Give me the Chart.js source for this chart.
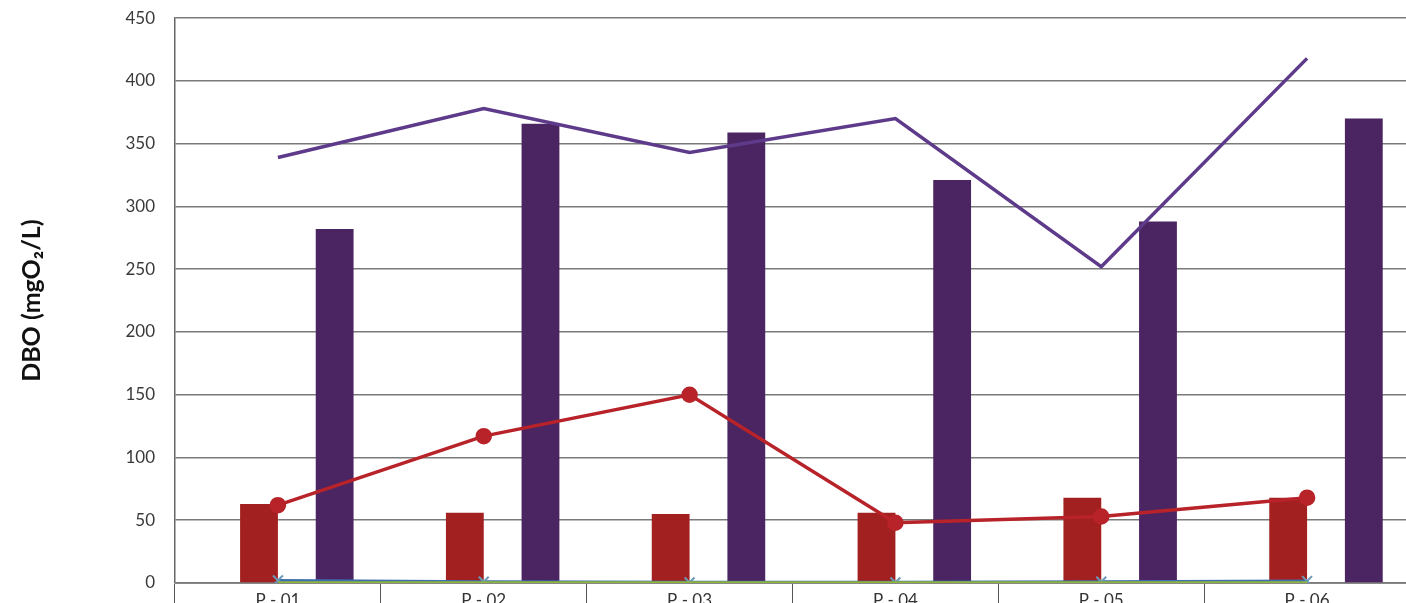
<!DOCTYPE html>
<html>
<head>
<meta charset="utf-8">
<script src="https://cdn.jsdelivr.net/npm/chart.js@4"></script>
<style>
  html, body { margin: 0; padding: 0; background: #fff; overflow: hidden; }
  #wrap { width: 1406px; height: 603px; overflow: hidden; position: relative; }
  #box { width: 1420px; height: 637px; position: absolute; left: 0; top: -12px; }
</style>
</head>
<body>
<div id="wrap"><div id="box"><canvas id="dboChart"></canvas></div></div>
<script>
// Pontos de coleta
const labels = ['P - 01', 'P - 02', 'P - 03', 'P - 04', 'P - 05', 'P - 06'];

// Barras
const barVazia1 = [0, 0, 0, 0, 0, 0];
const barVermelha = [63, 56, 55, 56, 68, 68];
const barVazia2 = [0, 0, 0, 0, 0, 0];
const barRoxa = [282, 366, 359, 321, 288, 370];

// Linhas
const linhaVermelha = [62, 117, 150, 48, 53, 68];
const linhaRoxa = [339, 378, 343, 370, 252, 418];
const linhaAzul = [2, 1, 0.5, 0.5, 1, 1.5];
const linhaVerde = [0, 0, 0, 0, 0, 0];

const yTicks = [0, 50, 100, 150, 200, 250, 300, 350, 400, 450];

const ctx = document.getElementById('dboChart').getContext('2d');
new Chart(ctx, {
    data: {
        labels: labels,
        datasets: [
            { type: 'line', data: linhaVermelha, borderColor: '#b8232a', backgroundColor: '#b8232a',
              borderWidth: 3.5, pointRadius: 6.5, pointBackgroundColor: '#b8232a', order: 0 },
            { type: 'line', data: linhaRoxa, borderColor: '#5d3a8a', borderWidth: 3.5, pointRadius: 0, order: 0 },
            { type: 'line', data: linhaVerde, borderColor: '#8db43c', borderWidth: 3.5, pointRadius: 0, order: 0 },
            { type: 'line', data: linhaAzul, borderColor: '#3f6fb0', borderWidth: 3, pointStyle: 'crossRot',
              pointRadius: 7, pointBorderColor: '#6a9ab8', pointBorderWidth: 2, order: 0 },
            { type: 'bar', data: barVazia1, backgroundColor: '#3f6fb0', order: 1 },
            { type: 'bar', data: barVermelha, backgroundColor: '#a32020', order: 1 },
            { type: 'bar', data: barVazia2, backgroundColor: '#8db43c', order: 1 },
            { type: 'bar', data: barRoxa, backgroundColor: '#4b2462', order: 1 }
        ]
    },
    options: {
        responsive: true,
        maintainAspectRatio: false,
        animation: false,
        datasets: { bar: { categoryPercentage: 0.735, barPercentage: 1.0 } },
        layout: { padding: { top: 6, right: 0, left: 0, bottom: 0 } },
        plugins: { legend: { display: false }, tooltip: { enabled: false } },
        scales: {
            x: {
                offset: true,
                grid: { offset: true, drawOnChartArea: false, drawTicks: true, tickLength: 24, color: '#555', lineWidth: 1 },
                border: { color: '#888', width: 1 },
                ticks: { color: '#333', padding: -17, font: { family: 'Lato', size: 17 } },
                afterFit: s => { s.height = 42; }
            },
            y: {
                min: 0, max: 450,
                afterBuildTicks: s => { s.ticks = yTicks.map(v => ({ value: v })); },
                grid: { color: '#7a7a7a', lineWidth: 1.5, drawTicks: false },
                border: { color: '#666', width: 1.5 },
                ticks: { color: '#3a3a3a', padding: 20, font: { family: 'Lato', size: 17 } },
                title: { display: true, text: 'DBO (mgO₂/L)', color: '#111',
                         font: { family: 'Lato', size: 25, weight: 'bold' }, padding: { top: 17, bottom: 0 } },
                afterFit: s => { s.width = 175; }
            }
        }
    }
});
</script>
</body>
</html>
